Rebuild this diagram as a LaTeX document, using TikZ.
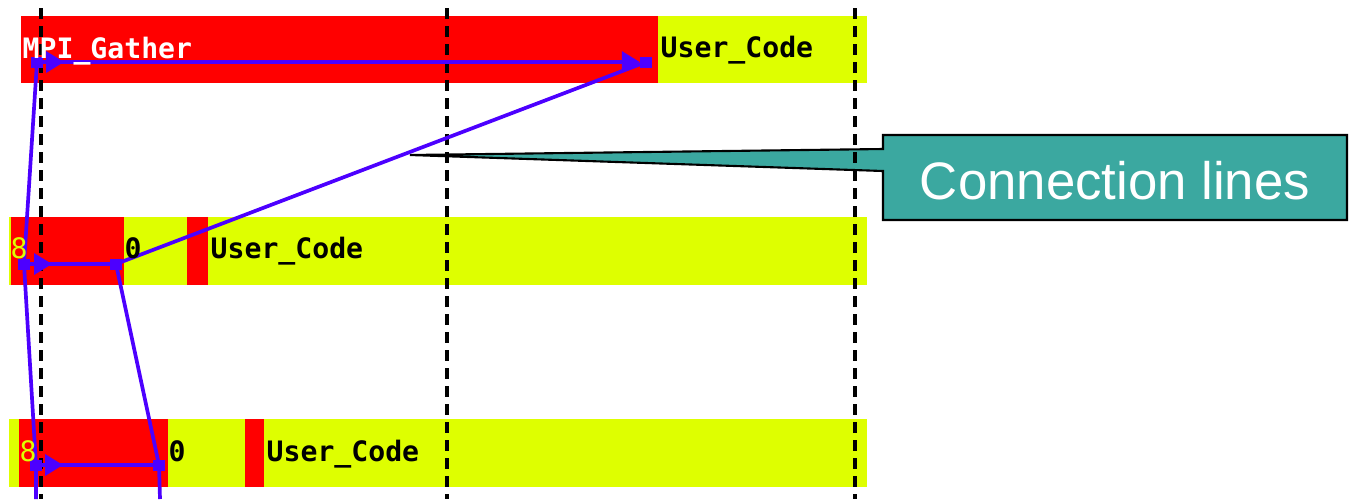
\documentclass[tikz,border=0pt]{standalone}
\usepackage{fontspec}
\setmainfont{Liberation Sans}
\newfontfamily\chartfont{DejaVu Sans Mono}
\usepackage{tikz}
\usetikzlibrary{positioning, arrows.meta, calc}

\definecolor{mpired}{RGB}{255,0,0}
\definecolor{usercol}{RGB}{222,255,0}
\definecolor{msgblue}{RGB}{76,0,255}
\definecolor{callteal}{RGB}{59,168,160}

\begin{document}
\begin{tikzpicture}[x=0.01cm, y=-0.01cm,
  msg/.style={draw=msgblue, line width=1.05pt},
  headarrow/.style={-{Triangle[length=0.18cm, width=0.21cm]}},
  evt/.style={fill=msgblue, inner sep=0pt, minimum size=0.11cm},
  timeline/.style={line width=1.1pt, dash pattern=on 0.11cm off 0.07cm},
  bartext/.style={anchor=base west, inner sep=0pt, font=\chartfont\bfseries\fontsize{8}{9}\selectfont}]
\useasboundingbox (0,0) rectangle (1350,499);

% process bars
\fill[mpired] (21,16) rectangle (658,83);
\fill[usercol] (658,16) rectangle (867,83);

\fill[usercol] (9,217) rectangle (867,285);
\fill[mpired] (11,217) rectangle (124,285);
\fill[mpired] (187,217) rectangle (208,285);

\fill[usercol] (9,419) rectangle (867,487);
\fill[mpired] (19,419) rectangle (168,487);
\fill[mpired] (245,419) rectangle (264,487);

% callout
\coordinate (tip) at (410,155);
\draw[line width=0.6pt, fill=callteal] (tip) -- (883,149) -- (883,135) -- (1347,135)
  -- (1347,220) -- (883,220) -- (883,171) -- cycle;

% time ticks
\draw[timeline] (41,8) -- (41,499);
\draw[timeline] (447,8) -- (447,499);
\draw[timeline] (855,8) -- (855,499);

% events
\node[evt] (r1s) at (37,62) {};
\node[evt] (r1e) at (646,62) {};
\node[evt] (r2s) at (24,264) {};
\node[evt] (r2e) at (116,264) {};
\node[evt] (r3s) at (36,465) {};
\node[evt] (r3e) at (159,465) {};
\coordinate (r3sout) at (36,499);
\coordinate (r3eout) at (160,499);

% connection lines
\draw[msg, headarrow] (r1s.center) -- (r1e.west);
\draw[msg] (r2e.center) -- (r1e.center);
\draw[msg] (r2s.center) -- (r2e.center);
\draw[msg] (r3s.center) -- (r3e.center);
\draw[msg] (r1s.center) -- (r2s.center) -- (r3s.center) -- (r3sout);
\draw[msg] (r2e.center) -- (r3e.center) -- (r3eout);
\draw[msg, headarrow] (r1s.center) -- ([xshift=0.27cm]r1s.center);
\draw[msg, headarrow] (r2s.center) -- ([xshift=0.28cm]r2s.center);
\draw[msg, headarrow] (r3s.center) -- ([xshift=0.27cm]r3s.center);

% labels
\node[bartext, white] (gather) at (22,58) {MPI\_Gather};
\node[bartext] (code0) at (660,57) {User\_Code};
\node[bartext, usercol, font=\chartfont\fontsize{8}{9}\selectfont] (cnt1) at (10,258) {8};
\node[bartext] (zero1) at (124,258) {0};
\node[bartext] (code1) at (210,258) {User\_Code};
\node[bartext, usercol, font=\chartfont\fontsize{8}{9}\selectfont] (cnt2) at (19,461) {8};
\node[bartext] (zero2) at (168,461) {0};
\node[bartext] (code2) at (266,461) {User\_Code};

\node[anchor=base, inner sep=0pt, text=white, font=\fontsize{15}{18}\selectfont] (calllabel) at (1115,199) {Connection lines};
\end{tikzpicture}
\end{document}
